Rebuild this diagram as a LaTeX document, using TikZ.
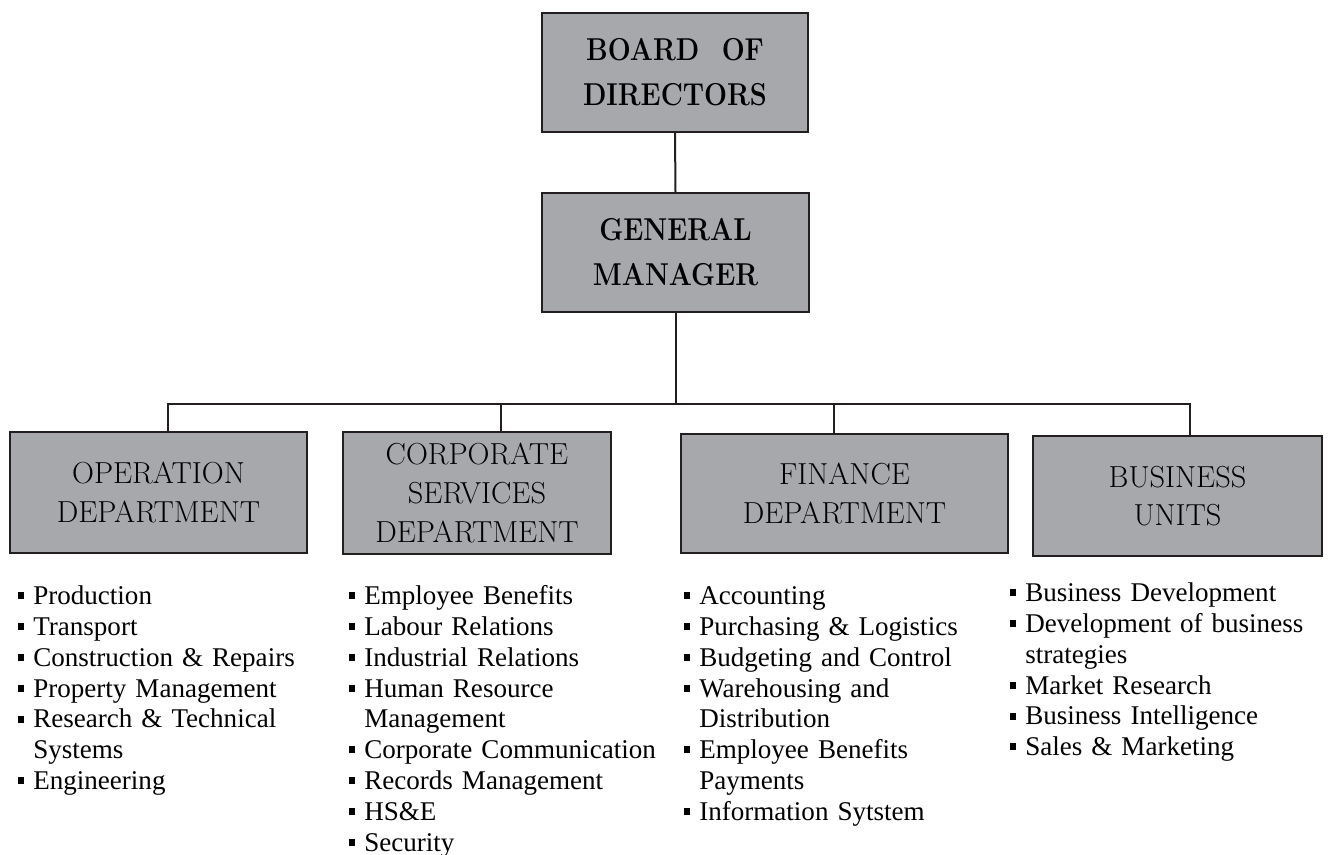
\documentclass[tikz,border=0pt]{standalone}
\usepackage{graphicx}
\usepackage{fontspec}
\newfontfamily\itemfont{Liberation Serif}
\definecolor{boxgray}{RGB}{167,168,172}
\definecolor{inkline}{RGB}{35,31,32}
\newcommand{\sqbullet}{\rule[0.2em]{3.4pt}{4pt}}
\newcommand{\tallbf}[1]{\scalebox{0.86}[1]{#1}}
\newenvironment{deptlist}{\begin{list}{\sqbullet}{\setlength{\leftmargin}{8.5pt}\setlength{\labelwidth}{3.4pt}\setlength{\labelsep}{5.1pt}\setlength{\itemsep}{0pt}\setlength{\parsep}{0pt}\setlength{\topsep}{0pt}\setlength{\partopsep}{0pt}}}{\end{list}}

\begin{document}
\begin{tikzpicture}[x=0.02cm, y=-0.02cm,
		deptbox/.style = {draw=inkline, fill=boxgray, line width=0.4mm, inner sep=0pt, align=center, font=\fontsize{17.3pt}{22pt}\selectfont},
		topbox/.style = {deptbox, font=\bfseries\fontsize{18pt}{25.6pt}\selectfont},
		listbox/.style = {anchor=north west, inner sep=0pt, text width=6.6cm, align=left, font=\itemfont\fontsize{15.4pt}{17.6pt}\selectfont},
		conn/.style = {draw=inkline, line width=0.4mm}]
			\useasboundingbox (0,0) rectangle (1330,855);

			\draw (675,72.5) node (board) [topbox, minimum width=5.32cm, minimum height=2.38cm] {\tallbf{BOARD\hspace{0.45em} OF}\\\tallbf{DIRECTORS}};
			\draw (675.5,252.5) node (gm) [topbox, minimum width=5.34cm, minimum height=2.38cm] {\tallbf{GENERAL}\\\tallbf{MANAGER}};

			\draw (158.5,492.5) node (op) [deptbox, minimum width=5.94cm, minimum height=2.42cm] {OPERATION\\DEPARTMENT};
			\draw (477,493) node (corp) [deptbox, minimum width=5.36cm, minimum height=2.44cm] {CORPORATE\\SERVICES\\DEPARTMENT};
			\draw (844.5,493.5) node (fin) [deptbox, minimum width=6.54cm, minimum height=2.38cm] {FINANCE\\DEPARTMENT};
			\draw (1177.5,496) node (bu) [deptbox, minimum width=5.78cm, minimum height=2.4cm] {BUSINESS\\UNITS};

			\coordinate (opTop) at (168,404);
			\coordinate (corpTop) at (501,404);
			\coordinate (finTop) at (834,404);
			\coordinate (buTop) at (1190,404);

			\draw[conn] (board.south) -- (gm.north);
			\draw[conn] (gm.south) -- (gm.south |- opTop);
			\draw[conn] (op.north -| opTop) -- (opTop) -- (buTop) -- (buTop |- bu.north);
			\draw[conn] (corpTop) -- (corpTop |- corp.north);
			\draw[conn] (finTop) -- (finTop |- fin.north);


			\draw (18,573) node (oplist) [listbox] {\begin{deptlist}
				\item Production
				\item Transport
				\item Construction \& Repairs
				\item Property Management
				\item Research \& Technical\newline Systems
				\item Engineering
			\end{deptlist}};

			\draw (349,573) node (corplist) [listbox] {\begin{deptlist}
				\item Employee Benefits
				\item Labour Relations
				\item Industrial Relations
				\item Human Resource\newline Management
				\item Corporate Communication
				\item Records Management
				\item HS\&E
				\item Security
			\end{deptlist}};

			\draw (684,573) node (finlist) [listbox] {\begin{deptlist}
				\item Accounting
				\item Purchasing \& Logistics
				\item Budgeting and Control
				\item Warehousing and\newline Distribution
				\item Employee Benefits\newline Payments
				\item Information Sytstem
			\end{deptlist}};

			\draw (1010,570) node (bulist) [listbox] {\begin{deptlist}
				\item Business Development
				\item Development of business\newline strategies
				\item Market Research
				\item Business Intelligence
				\item Sales \& Marketing
			\end{deptlist}};

		\end{tikzpicture}
\end{document}
